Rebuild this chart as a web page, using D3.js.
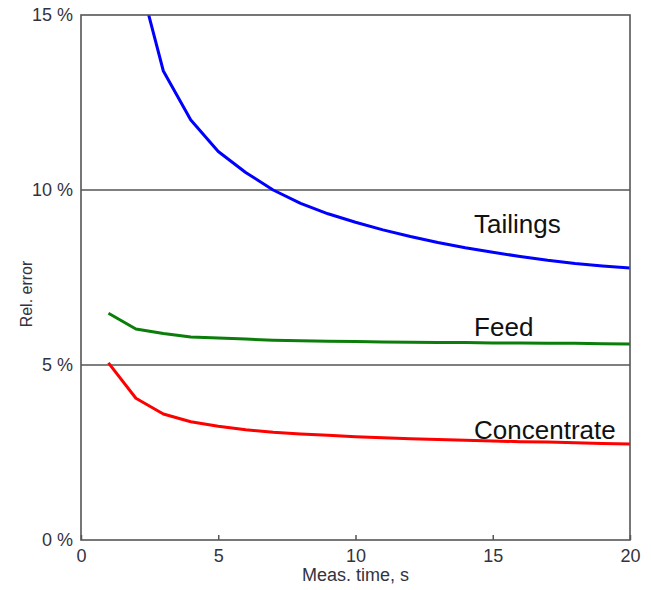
<!DOCTYPE html>
<html>
<head>
<meta charset="utf-8">
<script src="https://cdn.jsdelivr.net/npm/d3@7"></script>
<style>
  html, body { margin: 0; padding: 0; background: #fff; }
  svg text { font-family: "Liberation Sans", Arial, sans-serif; }
</style>
</head>
<body>
<svg id="chart" width="651" height="590"></svg>
<script>
// Measurement time (s)
const times = [1, 2, 3, 4, 5, 6, 7, 8, 9, 10, 11, 12, 13, 14, 15, 16, 17, 18, 19, 20];
// Relative error (%) per stream
const tailings = [22.0, 16.4, 13.4, 12.0, 11.1, 10.5, 10.0, 9.62, 9.32, 9.08, 8.86, 8.67, 8.5, 8.35, 8.22, 8.1, 7.99, 7.9, 7.83, 7.77];
const feed = [6.48, 6.03, 5.9, 5.8, 5.77, 5.74, 5.71, 5.69, 5.68, 5.67, 5.66, 5.65, 5.64, 5.64, 5.63, 5.63, 5.62, 5.62, 5.61, 5.6];
const concentrate = [5.06, 4.05, 3.6, 3.38, 3.25, 3.15, 3.08, 3.03, 2.99, 2.95, 2.92, 2.89, 2.87, 2.85, 2.83, 2.81, 2.8, 2.78, 2.76, 2.74];

const seriesNames = ["Tailings", "Feed", "Concentrate"];
const seriesColors = ["#0000ff", "#0a7d0a", "#ff0000"];
const xTicks = [0, 5, 10, 15, 20];
const yTicks = [0, 5, 10, 15];
const xTitle = "Meas. time, s";
const yTitle = "Rel. error";

const series = [tailings, feed, concentrate];

const svg = d3.select("#chart");
const plotLeft = 81, plotRight = 630, plotTop = 15, plotBottom = 540;

const x = d3.scaleLinear().domain([0, 20]).range([plotLeft, plotRight]);
const y = d3.scaleLinear().domain([0, 15]).range([plotBottom, plotTop]);

svg.append("defs").append("clipPath").attr("id", "plotClip")
  .append("rect").attr("x", plotLeft).attr("y", plotTop)
  .attr("width", plotRight - plotLeft).attr("height", plotBottom - plotTop);

// Horizontal grid lines at inner y ticks
svg.append("g").selectAll("line")
  .data(yTicks.filter(v => v > 0 && v < 15))
  .join("line")
  .attr("x1", plotLeft).attr("x2", plotRight)
  .attr("y1", d => y(d)).attr("y2", d => y(d))
  .attr("stroke", "#555").attr("stroke-width", 1.5);

// Bottom axis: ticks point inward
const xAxis = d3.axisBottom(x).tickValues(xTicks).tickSize(-5).tickPadding(9)
  .tickFormat(d3.format("d"));
const gx = svg.append("g").attr("transform", `translate(0,${plotBottom})`).call(xAxis);
gx.select(".domain").remove();
gx.selectAll(".tick line").attr("stroke", "#555").attr("stroke-width", 1.5);
gx.selectAll(".tick text").attr("font-size", 18).attr("fill", "#333340")
  .attr("font-family", "Liberation Sans, Arial, sans-serif");

// Left axis labels
const yAxis = d3.axisLeft(y).tickValues(yTicks).tickSize(0).tickPadding(8)
  .tickFormat(d => d + " %");
const gy = svg.append("g").attr("transform", `translate(${plotLeft},0)`).call(yAxis);
gy.select(".domain").remove();
gy.selectAll(".tick text").attr("font-size", 18).attr("fill", "#333340")
  .attr("font-family", "Liberation Sans, Arial, sans-serif");

// Curves
const line = d3.line().x((d, i) => x(times[i])).y(d => y(d));
svg.append("g").attr("clip-path", "url(#plotClip)")
  .selectAll("path").data(series).join("path")
  .attr("d", d => line(d))
  .attr("fill", "none")
  .attr("stroke", (d, i) => seriesColors[i])
  .attr("stroke-width", 3)
  .attr("stroke-linejoin", "round");

// Frame
svg.append("rect").attr("x", plotLeft).attr("y", plotTop)
  .attr("width", plotRight - plotLeft).attr("height", plotBottom - plotTop)
  .attr("fill", "none").attr("stroke", "#555").attr("stroke-width", 1.6);

// Series labels
const labelPos = [[14.32, 8.78], [14.32, 5.82], [14.32, 2.9]];
svg.append("g").selectAll("text").data(seriesNames).join("text")
  .attr("x", (d, i) => x(labelPos[i][0]))
  .attr("y", (d, i) => y(labelPos[i][1]))
  .attr("font-size", 26).attr("fill", "#111")
  .text(d => d);

// Axis titles
svg.append("text").attr("x", (plotLeft + plotRight) / 2).attr("y", 581)
  .attr("text-anchor", "middle").attr("font-size", 18).attr("fill", "#333340")
  .text(xTitle);
svg.append("text")
  .attr("transform", "translate(32,294) rotate(-90)")
  .attr("text-anchor", "middle").attr("font-size", 16).attr("fill", "#333340")
  .text(yTitle);
</script>
</body>
</html>
